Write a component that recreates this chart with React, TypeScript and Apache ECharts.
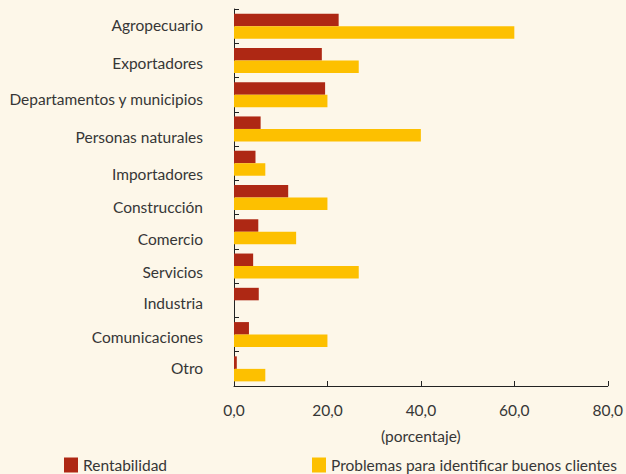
import React, { useEffect, useRef } from "react";
import * as echarts from "echarts";

const categories = [
  "Agropecuario",
  "Exportadores",
  "Departamentos y municipios",
  "Personas naturales",
  "Importadores",
  "Construcción",
  "Comercio",
  "Servicios",
  "Industria",
  "Comunicaciones",
  "Otro",
];
const rentabilidad = [22.4, 18.8, 19.5, 5.7, 4.6, 11.6, 5.2, 4.1, 5.3, 3.2, 0.6];
const problemas = [60.0, 26.7, 20.0, 40.0, 6.7, 20.0, 13.3, 26.7, 0, 20.0, 6.7];
const seriesNames = ["Rentabilidad", "Problemas para identificar buenos clientes"];
const xTicks = { min: 0, max: 80, interval: 20 };

// vertical offset (px) of each category label relative to its band centre, as in the source
const labelShift = [-1, 3, 4.5, 8, 11, 9.5, 7, 6, 3, 2, -1];

const FONT = "Lato";
const TEXT = "#363636";

export default function App() {
  const ref = useRef<HTMLDivElement>(null);
  useEffect(() => {
    document.body.style.margin = "0";
    if (!ref.current) return;
    const chart = echarts.init(ref.current, null, { renderer: "svg" });
    const rich: Record<string, any> = {};
    labelShift.forEach((s, i) => {
      rich["r" + i] = {
        fontSize: 15.5,
        fontFamily: FONT,
        color: TEXT,
        padding: s >= 0 ? [2 * s, 0, 0, 0] : [0, 0, -2 * s, 0],
      };
    });
    chart.setOption({
      animation: false,
      backgroundColor: "#FDF7E9",
      textStyle: { fontFamily: FONT, color: TEXT },
      grid: { left: 234, right: 17, top: 9, bottom: 88, containLabel: false },
      legend: [
        {
          data: [seriesNames[0]],
          left: 64,
          top: 457,
          padding: 0,
          icon: "rect",
          itemWidth: 14,
          itemHeight: 15,
          textStyle: { fontFamily: FONT, fontSize: 15.5, color: TEXT },
        },
        {
          data: [seriesNames[1]],
          left: 312,
          top: 457,
          padding: 0,
          icon: "rect",
          itemWidth: 14,
          itemHeight: 15,
          textStyle: { fontFamily: FONT, fontSize: 15.5, color: TEXT },
        },
      ],
      xAxis: {
        type: "value",
        min: xTicks.min,
        max: xTicks.max,
        interval: xTicks.interval,
        splitLine: { show: false },
        axisLine: { show: true, lineStyle: { color: "#222", width: 1 } },
        axisTick: { show: true, inside: true, length: 5, lineStyle: { color: "#222" } },
        axisLabel: {
          margin: 16,
          fontSize: 15.5,
          color: TEXT,
          fontFamily: FONT,
          formatter: (v: number) => v.toFixed(1).replace(".", ","),
        },
        name: "(porcentaje)",
        nameLocation: "middle",
        nameGap: 42,
        nameTextStyle: { fontSize: 15.5, color: TEXT, fontFamily: FONT },
      },
      yAxis: {
        type: "category",
        data: categories,
        inverse: true,
        axisLine: { show: true, lineStyle: { color: "#222", width: 1 } },
        axisTick: { show: true, inside: true, length: 5, alignWithLabel: false, lineStyle: { color: "#222" } },
        axisLabel: {
          margin: 31,
          fontSize: 15.5,
          color: TEXT,
          fontFamily: FONT,
          formatter: (v: string, i: number) => `{r${i}|${v}}`,
          rich,
        },
        splitLine: { show: false },
      },
      series: [
        {
          name: seriesNames[0],
          type: "bar",
          data: rentabilidad,
          itemStyle: { color: "#AE2814" },
          barGap: "0%",
          barCategoryGap: "27%",
        },
        {
          name: seriesNames[1],
          type: "bar",
          data: problemas,
          itemStyle: { color: "#FDC000" },
          barGap: "0%",
          barCategoryGap: "27%",
        },
      ],
    });
    return () => chart.dispose();
  }, []);
  return <div ref={ref} style={{ width: 626, height: 474 }} />;
}
